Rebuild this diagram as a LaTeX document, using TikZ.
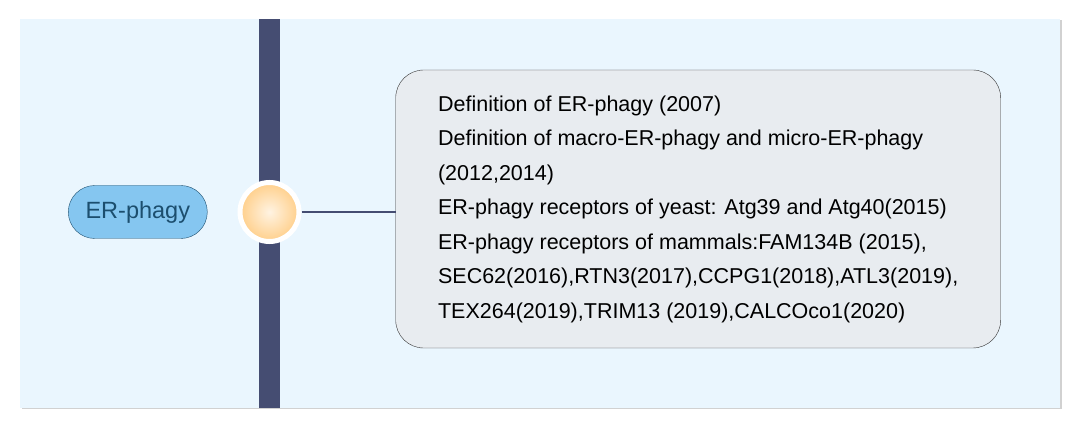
\documentclass[tikz,border=0pt]{standalone}
\usepackage{fontspec}
\setmainfont{Liberation Sans}
\usetikzlibrary{shapes.misc, positioning}

\definecolor{panelbg}{HTML}{EAF6FE}
\definecolor{spine}{HTML}{454D72}
\definecolor{pillfill}{HTML}{85C6F0}
\definecolor{pilldraw}{HTML}{1C4E6E}
\definecolor{boxfill}{HTML}{E8ECF0}
\definecolor{hubouter}{HTML}{FFCF8A}
\definecolor{hubinner}{HTML}{FFF3E2}

\begin{document}
\begin{tikzpicture}[
      x=1pt, y=-1pt,
      node distance=30pt,
      topic/.style={
          rounded rectangle,
          draw=pilldraw,
          fill=pillfill,
          text=pilldraw,
          font=\fontsize{23.5}{28}\selectfont,
          minimum width=139pt,
          minimum height=53pt,
          inner sep=0pt
        },
      hub/.style={
          circle,
          draw=white,
          line width=5pt,
          shading=radial,
          inner color=hubinner,
          outer color=hubouter,
          minimum size=59pt,
          inner sep=0pt
        },
      detail/.style={
          rectangle,
          draw=black!80,
          rounded corners=28pt,
          fill=boxfill,
          align=left,
          font=\fontsize{21.5}{34.5}\selectfont,
          minimum width=605pt,
          minimum height=278pt,
          inner sep=0pt
        },
      link/.style={
          draw=spine,
          line width=2.5pt
        }
    ]

    % Background
    \useasboundingbox (0,0) rectangle (1080,430);
    \fill[black!18] (21.5,20.5) rectangle (1061.5,409.5);
    \fill[panelbg] (20,19) rectangle (1060,408);
    \fill[spine] (259,19) rectangle (280,408);

    % Nodes
    \node[hub] (hub) at (269.5,212) {};
    \node[topic, left=30pt of hub] (erphagy) {ER-phagy};
    \node[detail, right=94pt of hub, yshift=3pt] (history) {Definition of ER-phagy (2007)\\
      Definition of macro-ER-phagy and micro-ER-phagy\\
      (2012,2014)\\
      ER-phagy receptors of yeast: Atg39 and Atg40(2015)\\
      ER-phagy receptors of mammals:FAM134B (2015),\\
      SEC62(2016),RTN3(2017),CCPG1(2018),ATL3(2019),\\
      TEX264(2019),TRIM13 (2019),CALCOco1(2020)};

    % Connectors
    \draw[link] (hub) -- (history.west |- hub);

  \end{tikzpicture}
\end{document}
